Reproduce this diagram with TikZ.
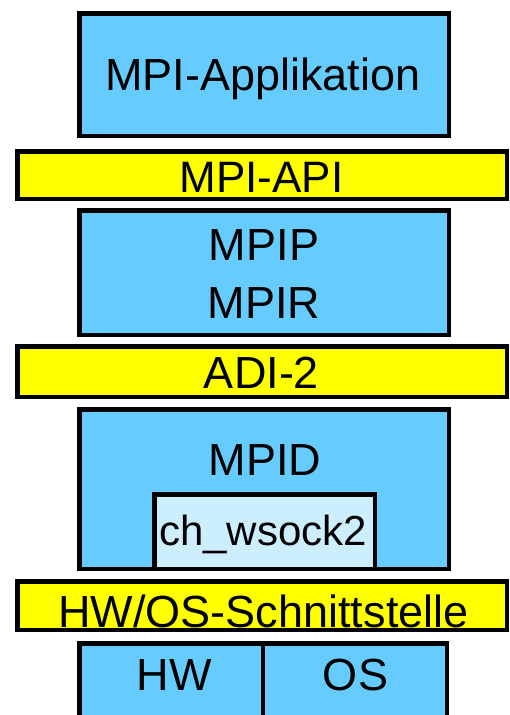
\documentclass[tikz,border=0pt]{standalone}
\usepackage{fontspec}
\setmainfont{Liberation Sans}
\definecolor{layerblue}{HTML}{66CCFF}
\definecolor{lightblue}{HTML}{CCEEFF}
\definecolor{ifyellow}{HTML}{FFFF00}
\begin{document}
\begin{tikzpicture}[x=1pt,y=-1pt,
  box/.style={draw=black,line width=4.5pt,fill=layerblue,rectangle,inner sep=0pt},
  bar/.style={draw=black,line width=4.5pt,fill=ifyellow,rectangle,inner sep=0pt,minimum width=489.5pt},
  lbl/.style={anchor=base,inner sep=0pt,font=\fontsize{45}{54}\selectfont}]
\useasboundingbox (0,0) rectangle (509,715);
\fill[white] (0,0) rectangle (509,715);
\clip (0,0) rectangle (509,715);
% layers
\node[box,minimum width=369.5pt,minimum height=122.5pt] (app) at (264,74.5) {};
\node[bar,minimum height=47.5pt] (api) at (262,175) {};
\node[box,minimum width=369.5pt,minimum height=124.5pt] (mpipr) at (264,272.5) {};
\node[bar,minimum height=50.5pt] (adi) at (262,371.5) {};
\node[box,minimum width=369.5pt,minimum height=159.5pt] (mpid) at (264,489) {};
\node[box,fill=lightblue,minimum width=220.5pt,minimum height=74.5pt] (wsock) at (264.5,531.5) {};
\node[bar,minimum height=48.5pt] (hwos) at (262,605.5) {};
\node[box,minimum width=183.75pt,minimum height=100pt] (hw) at (171.125,693.25) {};
\node[box,minimum width=183.75pt,minimum height=100pt] (os) at (354.875,693.25) {};
% labels
\node[lbl] (applbl) at (263,90) {MPI-Applikation};
\node[lbl,font=\fontsize{44}{52}\selectfont] (apilbl) at (261.5,192) {MPI-API};
\node[lbl] (mpiplbl) at (264,260) {MPIP};
\node[lbl] (mpirlbl) at (264,318) {MPIR};
\node[lbl] (adilbl) at (261.5,388) {ADI-2};
\node[lbl] (mpidlbl) at (265,475) {MPID};
\node[lbl,font=\fontsize{42}{50}\selectfont] (wsocklbl) at (263,545) {ch\_wsock2};
\node[lbl] (hwoslbl) at (263.5,627) {HW/OS-Schnittstelle};
\node[lbl] (hwlbl) at (174,690) {HW};
\node[lbl] (oslbl) at (355.5,690) {OS};
\end{tikzpicture}
\end{document}
